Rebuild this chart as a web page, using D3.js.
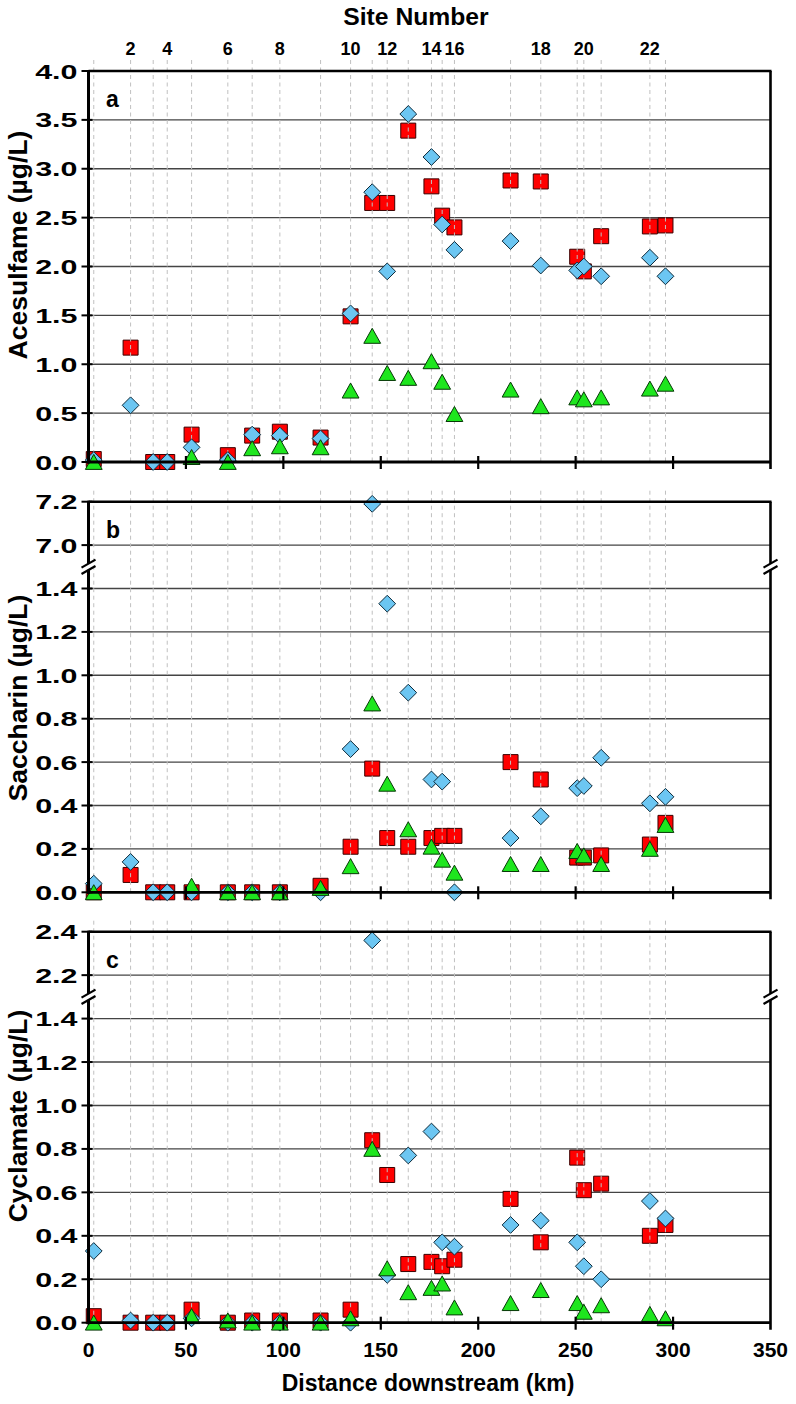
<!DOCTYPE html>
<html><head><meta charset="utf-8">
<script src="https://cdn.jsdelivr.net/npm/d3@7"></script>
<style>
body{margin:0;background:#fff;}
text{font-family:"Liberation Sans",Arial,sans-serif;font-weight:bold;fill:#000;}
</style></head>
<body><svg id="chart" width="796" height="1404"></svg>
<script>
// ---- data ----
const siteNumbers = [1,2,3,4,5,6,7,8,9,10,11,12,13,14,15,16,17,18,19,20,21,22,23];
const siteKm = [2.7,21.6,33.2,40.4,52.9,71.5,84.0,98.2,119.1,134.5,145.6,153.3,164.1,176.0,181.5,187.8,216.6,232.1,250.8,254.2,263.1,288.1,296.1];
const siteLabels = [2,4,6,8,10,12,14,16,18,20,22];
const xTicks = [0,50,100,150,200,250,300,350];

// Acesulfame
const aceRed   = [0.03,1.17,0.00,0.00,0.28,0.07,0.27,0.31,0.25,1.49,2.65,2.65,3.39,2.82,2.52,2.40,2.88,2.87,2.10,1.95,2.31,2.41,2.42];
const aceBlue  = [0.02,0.58,0.00,0.00,0.15,0.02,0.28,0.27,0.24,1.52,2.76,1.95,3.56,3.12,2.43,2.17,2.26,2.01,1.96,2.00,1.90,2.09,1.90];
const aceGreen = [0.00,null,null,null,0.05,0.00,0.14,0.16,0.15,0.73,1.29,0.91,0.86,1.03,0.82,0.49,0.74,0.57,0.66,0.64,0.66,0.75,0.80];
// Saccharin
const sacRed   = [0.00,0.08,0.00,0.00,0.00,0.00,0.00,0.00,0.03,0.21,0.57,0.25,0.21,0.25,0.26,0.26,0.60,0.52,0.16,0.16,0.17,0.22,0.32];
const sacBlue  = [0.04,0.14,0.00,0.00,0.00,0.00,0.00,0.00,0.00,0.66,7.19,1.33,0.92,0.52,0.51,0.00,0.25,0.35,0.48,0.49,0.62,0.41,0.44];
const sacGreen = [0.00,null,null,null,0.03,0.00,0.00,0.00,0.02,0.12,0.87,0.50,0.29,0.21,0.15,0.09,0.13,0.13,0.19,0.17,0.13,0.20,0.31];
// Cyclamate
const cycRed   = [0.03,0.00,0.00,0.00,0.06,0.00,0.01,0.01,0.01,0.06,0.84,0.68,0.27,0.28,0.26,0.29,0.57,0.37,0.76,0.61,0.64,0.40,0.45];
const cycBlue  = [0.33,0.01,0.00,0.00,0.02,0.00,0.00,0.00,0.00,0.00,2.36,0.22,0.77,0.88,0.37,0.35,0.45,0.47,0.37,0.26,0.20,0.56,0.48];
const cycGreen = [0.00,null,null,null,0.03,0.01,0.00,0.00,0.00,0.02,0.80,0.25,0.14,0.16,0.18,0.07,0.09,0.15,0.09,0.05,0.08,0.04,0.02];

const aceTicks = [0,0.5,1.0,1.5,2.0,2.5,3.0,3.5,4.0];
const sacTicks = [0,0.2,0.4,0.6,0.8,1.0,1.2,1.4,7.0,7.2];
const cycTicks = [0,0.2,0.4,0.6,0.8,1.0,1.2,1.4,2.2,2.4];

// ---- drawing ----
const svg = d3.select("#chart");
const x = d3.scaleLinear().domain([0,350]).range([88.5,770.5]);

const RED="#ff0000", BLUE="#6cc6f2", GREEN="#1ee61e";

function makeY(top,bottom,ticks,broken){
  if(!broken) return d3.scaleLinear().domain([ticks[0],ticks[ticks.length-1]]).range([bottom,top]);
  const h=(bottom-top)/(ticks.length-1);
  const n=ticks.length;
  return d3.scaleLinear()
    .domain([ticks[0],ticks[n-3],ticks[n-2],ticks[n-1]])
    .range([bottom,bottom-(n-3)*h,bottom-(n-2)*h,top]);
}

const panels = [
  {letter:"a",title:"Acesulfame (µg/L)",titleY:245,top:71,bottom:462,ticks:aceTicks,broken:false,fmt:d3.format(".1f"),
   red:aceRed,blue:aceBlue,green:aceGreen},
  {letter:"b",title:"Saccharin (µg/L)",titleY:698,top:501.7,bottom:892.3,ticks:sacTicks,broken:true,fmt:d3.format(".1f"),
   red:sacRed,blue:sacBlue,green:sacGreen},
  {letter:"c",title:"Cyclamate (µg/L)",titleY:1116,top:931.7,bottom:1322.7,ticks:cycTicks,broken:true,fmt:d3.format(".1f"),
   red:cycRed,blue:cycBlue,green:cycGreen}
];

const triPath = "M0,-7.6L8.4,7.4L-8.4,7.4Z";
const sqPath = d3.symbol().type(d3.symbolSquare).size(225)();
const diaPath = "M0,-8.4L8.4,0L0,8.4L-8.4,0Z";

panels.forEach(p=>{
  const y = makeY(p.top,p.bottom,p.ticks,p.broken);
  const g = svg.append("g");
  const x0=x.range()[0], x1=x.range()[1];

  g.selectAll(".hg").data(p.ticks.slice(1,-1)).join("line")
    .attr("x1",x0).attr("x2",x1).attr("y1",d=>y(d)).attr("y2",d=>y(d))
    .attr("stroke","#444").attr("stroke-width",1.4);

  const pts = (arr)=>arr.map((v,i)=>({km:siteKm[i],v})).filter(d=>d.v!==null);
  g.selectAll(".r").data(pts(p.red)).join("path")
    .attr("d",sqPath).attr("transform",d=>`translate(${x(d.km)},${y(d.v)})`)
    .attr("fill",RED).attr("stroke","#3a0000").attr("stroke-width",1);

  g.selectAll(".vg").data(siteKm).join("line")
    .attr("x1",d=>x(d)).attr("x2",d=>x(d)).attr("y1",p.top-11).attr("y2",p.bottom)
    .attr("stroke","#c0c0c0").attr("stroke-width",1).attr("stroke-dasharray","4,3.5");

  g.selectAll(".b").data(pts(p.blue)).join("path")
    .attr("d",diaPath).attr("transform",d=>`translate(${x(d.km)},${y(d.v)})`)
    .attr("fill",BLUE).attr("stroke","#0d2a3a").attr("stroke-width",1);

  g.selectAll(".gr").data(pts(p.green)).join("path")
    .attr("d",triPath).attr("transform",d=>`translate(${x(d.km)},${y(d.v)})`)
    .attr("fill",GREEN).attr("stroke","#063806").attr("stroke-width",1);

  g.append("line").attr("x1",x0).attr("x2",x1+1).attr("y1",p.top).attr("y2",p.top).attr("stroke","#000").attr("stroke-width",2.6);
  g.append("line").attr("x1",x1).attr("x2",x1).attr("y1",p.top).attr("y2",p.bottom+7).attr("stroke","#000").attr("stroke-width",2.6);
  g.append("line").attr("x1",x0-1.5).attr("x2",x1).attr("y1",p.bottom).attr("y2",p.bottom).attr("stroke","#000").attr("stroke-width",2.8);
  g.append("line").attr("x1",x0).attr("x2",x0).attr("y1",p.top-1).attr("y2",p.bottom+1.5).attr("stroke","#000").attr("stroke-width",3);

  g.selectAll(".xt").data(xTicks.slice(1,-1)).join("line")
    .attr("x1",d=>x(d)).attr("x2",d=>x(d)).attr("y1",p.bottom-6).attr("y2",p.bottom+7)
    .attr("stroke","#000").attr("stroke-width",2.2);

  g.selectAll(".yt").data(p.ticks).join("line")
    .attr("x1",x0-7).attr("x2",x0+4).attr("y1",d=>y(d)).attr("y2",d=>y(d))
    .attr("stroke","#000").attr("stroke-width",2);
  g.selectAll(".yl").data(p.ticks).join("text")
    .attr("transform",d=>`translate(${x0-11},${y(d)}) scale(1.45,1)`)
    .attr("text-anchor","end").attr("dy","0.36em").attr("font-size",21)
    .text(d=>p.fmt(d));

  if(p.broken){
    const n=p.ticks.length;
    const yb=(y(p.ticks[n-3])+y(p.ticks[n-2]))/2;
    [x0,x1].forEach(xx=>{
      g.append("rect").attr("x",xx-3).attr("y",yb-3).attr("width",6).attr("height",6).attr("fill","#fff");
      [-3.2,3.2].forEach(off=>{
        g.append("line").attr("x1",xx-7).attr("x2",xx+7).attr("y1",yb+off+4).attr("y2",yb+off-4)
          .attr("stroke","#000").attr("stroke-width",2.2);
      });
    });
  }

  g.append("text").attr("x",106).attr("y",p.top+36).attr("font-size",23).text(p.letter);

  g.append("text").attr("transform",`translate(27,${p.titleY}) rotate(-90)`)
    .attr("text-anchor","middle").attr("font-size",26.5).text(p.title);
});

svg.selectAll(".sl").data(siteLabels).join("text")
  .attr("x",d=>x(siteKm[siteNumbers.indexOf(d)])).attr("y",55)
  .attr("text-anchor","middle").attr("font-size",18).text(d=>d);
svg.append("text").attr("x",416).attr("y",25).attr("text-anchor","middle").attr("font-size",24.7).text("Site Number");

svg.selectAll(".xl").data(xTicks).join("text")
  .attr("x",d=>x(d)).attr("y",1357).attr("text-anchor","middle").attr("font-size",21).text(d=>d);
svg.append("text").attr("x",428).attr("y",1391).attr("text-anchor","middle").attr("font-size",23).text("Distance downstream (km)");
</script></body></html>
